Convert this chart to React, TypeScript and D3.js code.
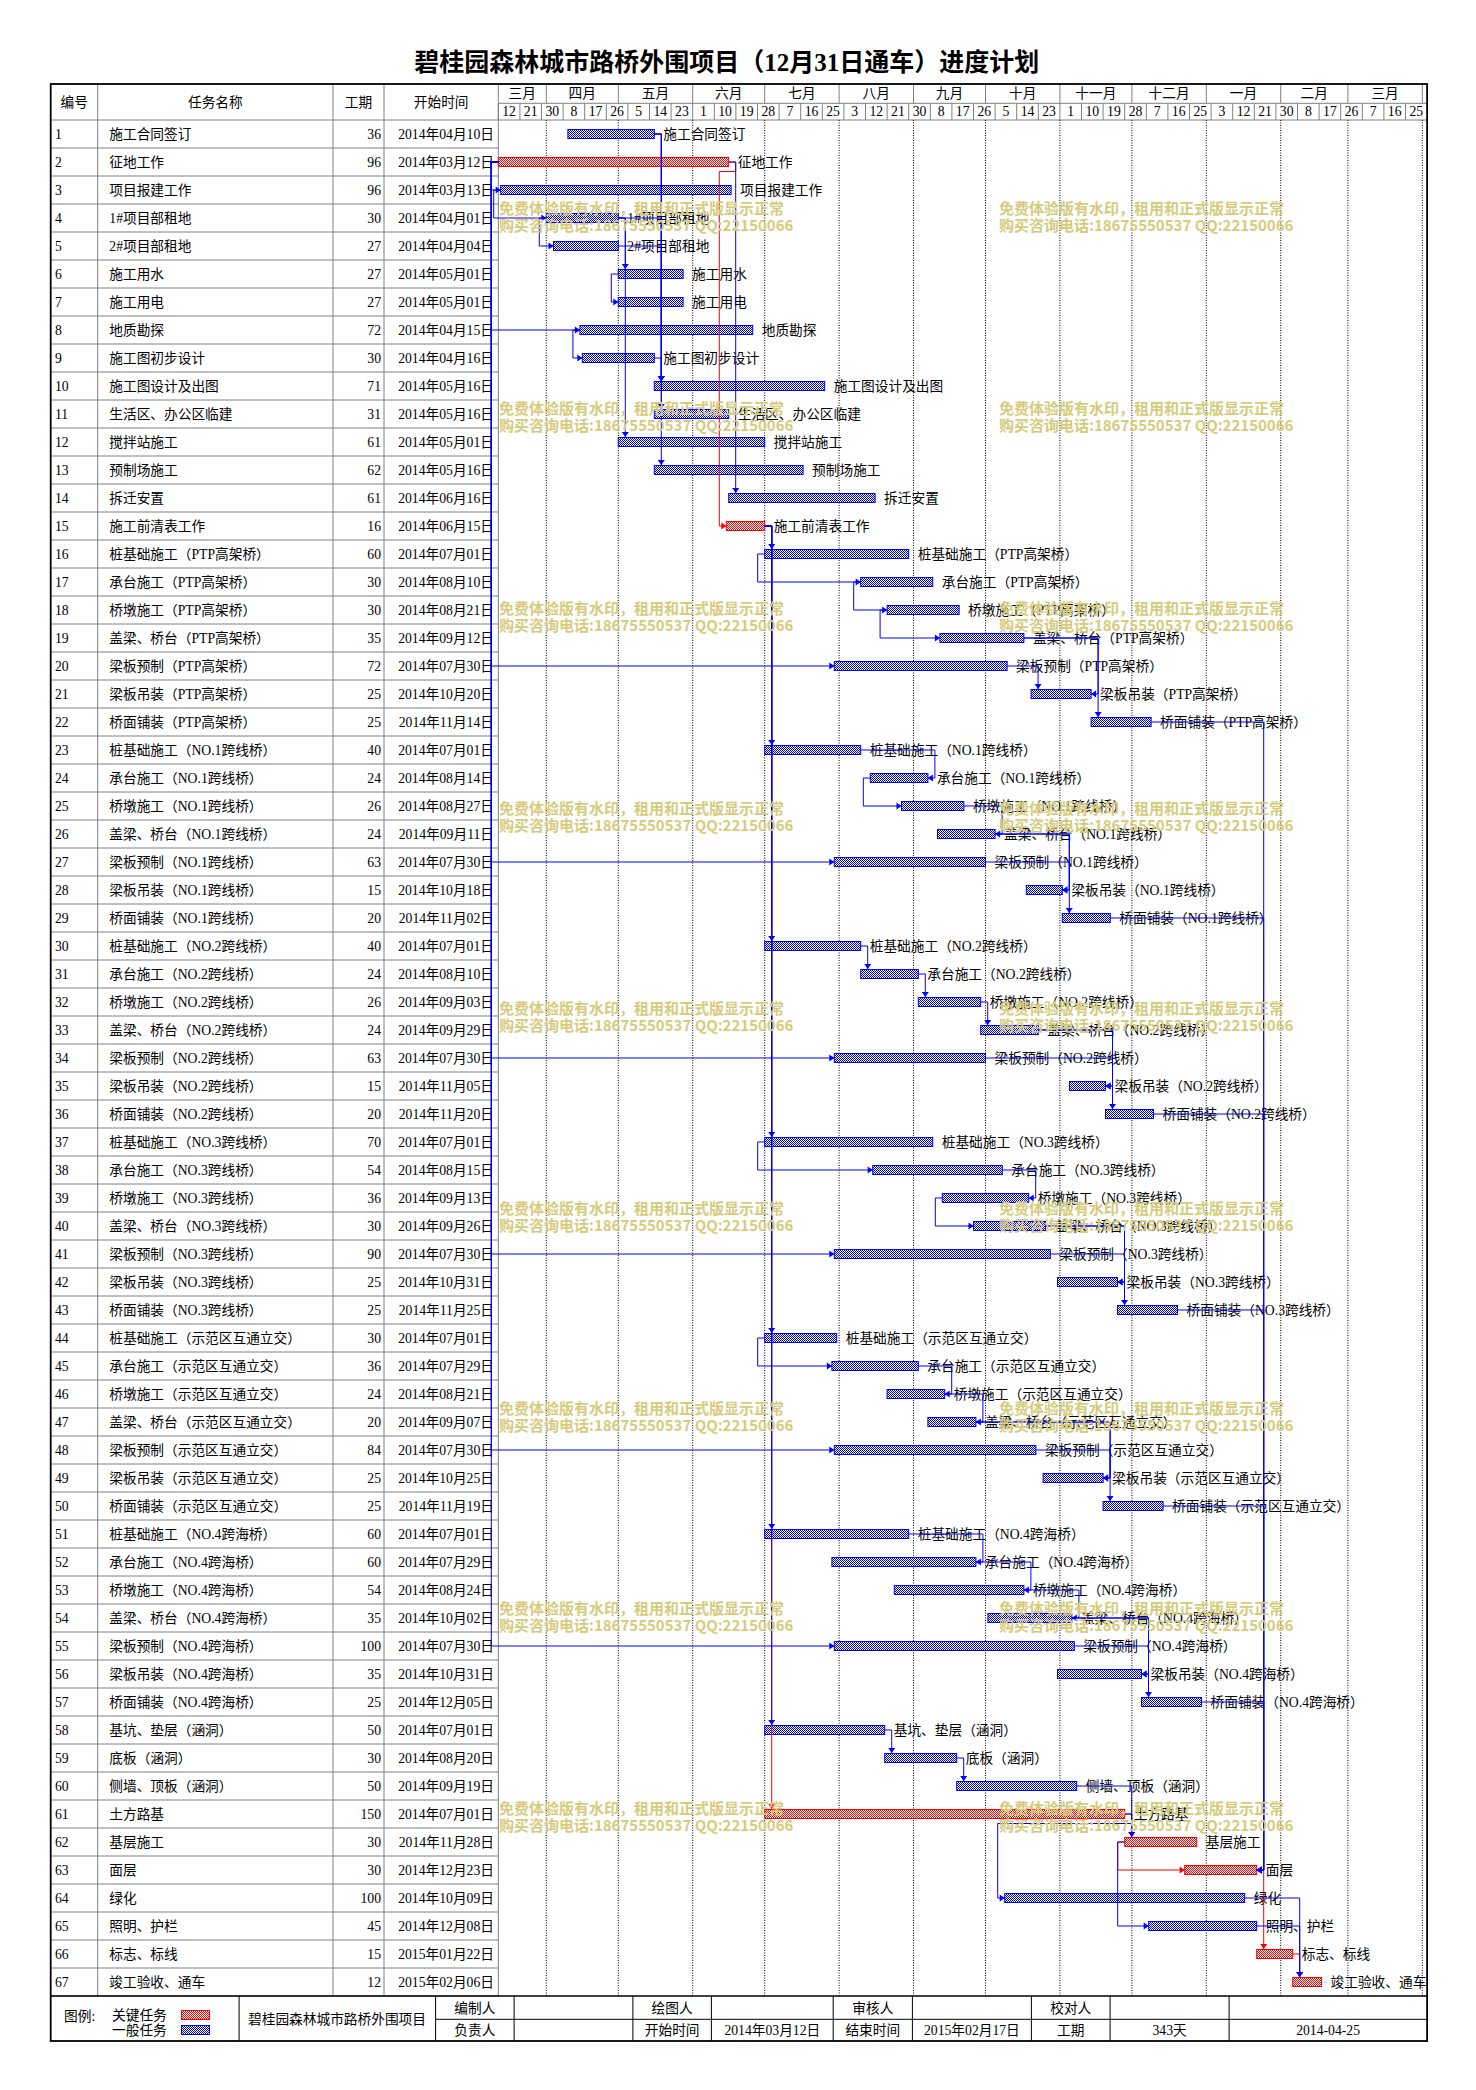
import React, { useEffect } from "react";
import * as d3 from "d3";

const title = "碧桂园森林城市路桥外围项目（12月31日通车）进度计划";
const headerLabels = ["编号", "任务名称", "工期", "开始时间"];
const monthNames = ["一月", "二月", "三月", "四月", "五月", "六月", "七月", "八月", "九月", "十月", "十一月", "十二月"];

const taskNames = [
  "施工合同签订", "征地工作", "项目报建工作", "1#项目部租地", "2#项目部租地", "施工用水", "施工用电", "地质勘探",
  "施工图初步设计", "施工图设计及出图", "生活区、办公区临建", "搅拌站施工", "预制场施工", "拆迁安置", "施工前清表工作",
  "桩基础施工（PTP高架桥）", "承台施工（PTP高架桥）", "桥墩施工（PTP高架桥）", "盖梁、桥台（PTP高架桥）",
  "梁板预制（PTP高架桥）", "梁板吊装（PTP高架桥）", "桥面铺装（PTP高架桥）",
  "桩基础施工（NO.1跨线桥）", "承台施工（NO.1跨线桥）", "桥墩施工（NO.1跨线桥）", "盖梁、桥台（NO.1跨线桥）",
  "梁板预制（NO.1跨线桥）", "梁板吊装（NO.1跨线桥）", "桥面铺装（NO.1跨线桥）",
  "桩基础施工（NO.2跨线桥）", "承台施工（NO.2跨线桥）", "桥墩施工（NO.2跨线桥）", "盖梁、桥台（NO.2跨线桥）",
  "梁板预制（NO.2跨线桥）", "梁板吊装（NO.2跨线桥）", "桥面铺装（NO.2跨线桥）",
  "桩基础施工（NO.3跨线桥）", "承台施工（NO.3跨线桥）", "桥墩施工（NO.3跨线桥）", "盖梁、桥台（NO.3跨线桥）",
  "梁板预制（NO.3跨线桥）", "梁板吊装（NO.3跨线桥）", "桥面铺装（NO.3跨线桥）",
  "桩基础施工（示范区互通立交）", "承台施工（示范区互通立交）", "桥墩施工（示范区互通立交）", "盖梁、桥台（示范区互通立交）",
  "梁板预制（示范区互通立交）", "梁板吊装（示范区互通立交）", "桥面铺装（示范区互通立交）",
  "桩基础施工（NO.4跨海桥）", "承台施工（NO.4跨海桥）", "桥墩施工（NO.4跨海桥）", "盖梁、桥台（NO.4跨海桥）",
  "梁板预制（NO.4跨海桥）", "梁板吊装（NO.4跨海桥）", "桥面铺装（NO.4跨海桥）",
  "基坑、垫层（涵洞）", "底板（涵洞）", "侧墙、顶板（涵洞）", "土方路基", "基层施工", "面层", "绿化",
  "照明、护栏", "标志、标线", "竣工验收、通车",
];

const durations = [
  36, 96, 96, 30, 27, 27, 27, 72, 30, 71, 31, 61, 62, 61, 16,
  60, 30, 30, 35, 72, 25, 25,
  40, 24, 26, 24, 63, 15, 20,
  40, 24, 26, 24, 63, 15, 20,
  70, 54, 36, 30, 90, 25, 25,
  30, 36, 24, 20, 84, 25, 25,
  60, 60, 54, 35, 100, 35, 25,
  50, 30, 50, 150, 30, 30, 100, 45, 15, 12,
];

const startDates = [
  "2014-04-10", "2014-03-12", "2014-03-13", "2014-04-01", "2014-04-04", "2014-05-01", "2014-05-01", "2014-04-15",
  "2014-04-16", "2014-05-16", "2014-05-16", "2014-05-01", "2014-05-16", "2014-06-16", "2014-06-15",
  "2014-07-01", "2014-08-10", "2014-08-21", "2014-09-12", "2014-07-30", "2014-10-20", "2014-11-14",
  "2014-07-01", "2014-08-14", "2014-08-27", "2014-09-11", "2014-07-30", "2014-10-18", "2014-11-02",
  "2014-07-01", "2014-08-10", "2014-09-03", "2014-09-29", "2014-07-30", "2014-11-05", "2014-11-20",
  "2014-07-01", "2014-08-15", "2014-09-13", "2014-09-26", "2014-07-30", "2014-10-31", "2014-11-25",
  "2014-07-01", "2014-07-29", "2014-08-21", "2014-09-07", "2014-07-30", "2014-10-25", "2014-11-19",
  "2014-07-01", "2014-07-29", "2014-08-24", "2014-10-02", "2014-07-30", "2014-10-31", "2014-12-05",
  "2014-07-01", "2014-08-20", "2014-09-19", "2014-07-01", "2014-11-28", "2014-12-23", "2014-10-09",
  "2014-12-08", "2015-01-22", "2015-02-06",
];

const criticalTasks = [2, 15, 61, 62, 63, 66, 67];

// dependency links: predecessor id, successor id, type
const linkFrom = [
  2, 15, 61, 62, 63, 66,
  2, 2, 2, 2, 2, 2, 2, 2, 3, 4, 4, 4, 4, 5, 1, 1, 1, 9, 6, 8, 2,
  15, 15, 15, 15, 15, 15, 15,
  16, 17, 18, 19, 19, 20, 22,
  23, 24, 25, 26, 26, 27, 29,
  30, 31, 32, 33, 33, 34, 36,
  37, 38, 39, 40, 40, 41, 43,
  44, 45, 46, 47, 47, 48, 50,
  51, 52, 53, 54, 54, 55, 57,
  58, 59, 60, 61, 62, 64, 65,
];
const linkTo = [
  15, 61, 62, 63, 66, 67,
  3, 8, 20, 27, 34, 41, 48, 55, 4, 5, 6, 12, 10, 10, 10, 11, 13, 10, 7, 9, 14,
  16, 23, 30, 37, 44, 51, 58,
  17, 18, 19, 21, 22, 21, 63,
  24, 25, 26, 28, 29, 28, 63,
  31, 32, 33, 35, 36, 35, 63,
  38, 39, 40, 42, 43, 42, 63,
  45, 46, 47, 49, 50, 49, 63,
  52, 53, 54, 56, 57, 56, 63,
  59, 60, 62, 64, 65, 67, 67,
];
const linkType = [
  "FS", "FS", "FS", "SS", "FS", "FS",
  "SS", "SS", "SS", "SS", "SS", "SS", "SS", "SS", "SS", "SS", "FS", "FS", "FS", "FS", "FS", "FS", "FS", "FS", "SS", "SS", "FS",
  "FS", "FS", "FS", "FS", "FS", "FS", "FS",
  "SS", "SS", "SS", "FF", "FS", "FS", "FF",
  "FF", "SS", "FF", "FF", "FS", "FF", "FF",
  "FS", "FS", "FS", "FF", "FS", "FF", "FF",
  "SS", "FF", "SS", "FF", "FS", "FF", "FF",
  "SS", "FF", "FF", "FF", "FS", "FF", "FF",
  "FF", "FF", "FF", "FF", "FS", "FF", "FF",
  "FS", "FS", "FS", "FS", "SS", "FS", "FS",
];

const legendLabels = ["图例:", "关键任务", "一般任务"];
const projectName = "碧桂园森林城市路桥外围项目";
const footerTop = ["编制人", "", "绘图人", "", "审核人", "", "校对人", "", ""];
const footerBottom = ["负责人", "", "开始时间", "2014年03月12日", "结束时间", "2015年02月17日", "工期", "343天", "2014-04-25"];
const watermark1 = "免费体验版有水印，租用和正式版显示正常";
const watermark2 = "购买咨询电话:18675550537 QQ:22150066";

const FONT = "'Liberation Serif','Noto Sans CJK SC',serif";
const GRAY = "#808080";
const BLUE = "#0000ff";
const RED = "#ff0000";

const W = 1476;
const H = 2090;
const colX = [50.7, 97.7, 333, 384, 498.3];
const X_END = 1427.1;
const HEAD_TOP = 84;
const HEAD_MID = 103.3;
const TOP = 120;
const ROW_H = 28;
const FOOT_TOP = TOP + ROW_H * taskNames.length;
const FOOT_MID = 2019.3;
const FOOT_BOT = 2041;
const footCols = [435.6, 514.1, 632.9, 711.4, 833.2, 912.4, 1031.4, 1110.1, 1229.1, X_END];

const parse = (s: string) => {
  const [y, m, d] = s.split("-").map(Number);
  return new Date(Date.UTC(y, m - 1, d));
};
const fmtCN = (s: string) => {
  const [y, m, d] = s.split("-");
  return `${y}年${m}月${d}日`;
};

export default function App() {
  useEffect(() => {
    document.body.style.margin = "0";
  }, []);

  const d0 = new Date(Date.UTC(2014, 2, 12));
  const d1 = new Date(Date.UTC(2015, 3, 3));
  const x = d3.scaleUtc().domain([d0, d1]).range([colX[4], X_END]);

  const starts = startDates.map(parse);
  const ends = starts.map((s, i) => d3.utcDay.offset(s, durations[i]));
  const cy = (i: number) => TOP + (i + 0.5) * ROW_H;
  const xs = (i: number) => x(starts[i]);
  const xe = (i: number) => x(ends[i]);
  const HB = 4.5;
  const G = 7;

  const monthBounds = [d0, ...d3.utcMonths(d0, d1), d1];
  const monthSegs = monthBounds.slice(0, -1).map((b, i) => ({ a: b, b: monthBounds[i + 1] }));
  const innerMonths = d3.utcMonths(d3.utcDay.offset(d0, 1), d1);
  const dayTicks = d3.range(0, 387, 9).map((k) => d3.utcDay.offset(d0, k));

  const links = linkFrom.map((f, k) => {
    const fi = f - 1;
    const ti = linkTo[k] - 1;
    const t = linkType[k];
    const red = criticalTasks.includes(f) && criticalTasks.includes(linkTo[k]);
    let d = "";
    let arrow = "";
    if (t === "FS") {
      const ex = xe(fi);
      const sx = xs(ti);
      if (sx >= ex - 0.01) {
        const px = sx + G;
        const ty = cy(ti) - HB - 0.5;
        d = `M${ex},${cy(fi)}H${px}V${ty}`;
        arrow = `M${px},${ty}L${px - 3.5},${ty - 5}L${px + 3.5},${ty - 5}Z`;
      } else {
        const yb = cy(fi) + 9.5;
        d = `M${ex},${cy(fi)}H${ex + G}V${yb}H${sx - G}V${cy(ti)}H${sx}`;
        arrow = `M${sx},${cy(ti)}L${sx - 5},${cy(ti) - 3.5}L${sx - 5},${cy(ti) + 3.5}Z`;
      }
    } else if (t === "SS") {
      const sp = xs(fi);
      const sx = xs(ti);
      d = `M${sp},${cy(fi)}H${sp - G}V${cy(ti)}H${sx}`;
      arrow = `M${sx},${cy(ti)}L${sx - 5},${cy(ti) - 3.5}L${sx - 5},${cy(ti) + 3.5}Z`;
    } else {
      const ep = xe(fi);
      const es = xe(ti);
      const turn = Math.max(ep, es) + G;
      d = `M${ep},${cy(fi)}H${turn}V${cy(ti)}H${es}`;
      arrow = `M${es},${cy(ti)}L${es + 5},${cy(ti) - 3.5}L${es + 5},${cy(ti) + 3.5}Z`;
    }
    return { d, arrow, red, key: k };
  });
  const orderedLinks = [...links.filter((l) => l.red), ...links.filter((l) => !l.red)];

  const fs = 13.7;

  return (
    <svg width={W} height={H} style={{ display: "block", position: "absolute", left: 0, top: 0, background: "#fff" }} fontFamily={FONT}>
      <defs>
        <pattern id="pBlue" width={2} height={2} patternUnits="userSpaceOnUse">
          <rect width={2} height={2} fill="#fff" />
          <rect width={1} height={1} fill={BLUE} />
          <rect x={1} y={1} width={1} height={1} fill={BLUE} />
        </pattern>
        <pattern id="pRed" width={2} height={2} patternUnits="userSpaceOnUse">
          <rect width={2} height={2} fill="#fff" />
          <rect width={1} height={1} fill={RED} />
          <rect x={1} y={1} width={1} height={1} fill={RED} />
        </pattern>
      </defs>
      <rect width={W} height={H} fill="#fff" />

      {/* title */}
      <text x={726.7} y={62} fontSize={25} fontWeight="bold" textAnchor="middle" dominantBaseline="central" fill="#000">
        {title}
      </text>

      {/* table grid */}
      {taskNames.map((_, i) => (
        <line key={"rl" + i} x1={colX[0]} x2={colX[4]} y1={TOP + (i + 1) * ROW_H} y2={TOP + (i + 1) * ROW_H} stroke={GRAY} strokeWidth={1} />
      ))}
      <line x1={colX[0]} x2={X_END} y1={TOP} y2={TOP} stroke={GRAY} strokeWidth={1} />
      {colX.slice(1).map((cx, i) => (
        <line key={"cl" + i} x1={cx} x2={cx} y1={HEAD_TOP} y2={FOOT_TOP} stroke={GRAY} strokeWidth={1} />
      ))}

      {/* header labels */}
      {headerLabels.map((h, i) => (
        <text key={"h" + i} x={(colX[i] + colX[i + 1]) / 2} y={102} fontSize={fs} textAnchor="middle" dominantBaseline="central">
          {h}
        </text>
      ))}

      {/* timeline header */}
      <line x1={colX[4]} x2={X_END} y1={HEAD_MID} y2={HEAD_MID} stroke={GRAY} strokeWidth={1} />
      {innerMonths.map((m, i) => (
        <line key={"ms" + i} x1={x(m)} x2={x(m)} y1={HEAD_TOP} y2={HEAD_MID} stroke={GRAY} strokeWidth={1} />
      ))}
      {monthSegs.map((s, i) =>
        x(s.b) - x(s.a) > 20 ? (
          <text key={"mt" + i} x={(x(s.a) + x(s.b)) / 2} y={93.7} fontSize={fs} textAnchor="middle" dominantBaseline="central">
            {monthNames[s.a.getUTCMonth()]}
          </text>
        ) : null
      )}
      {dayTicks.map((t, i) => (
        <g key={"dt" + i}>
          <line x1={x(t)} x2={x(t)} y1={HEAD_MID} y2={TOP} stroke={GRAY} strokeWidth={1} />
          <text x={x(t) + 10.8} y={111.8} fontSize={fs} textAnchor="middle" dominantBaseline="central">
            {t.getUTCDate()}
          </text>
        </g>
      ))}

      {/* month dotted lines */}
      {innerMonths.map((m, i) => (
        <line key={"md" + i} x1={x(m)} x2={x(m)} y1={TOP} y2={FOOT_TOP} stroke="#000" strokeWidth={1} strokeDasharray="1,1.5" />
      ))}

      {/* table rows */}
      {taskNames.map((n, i) => (
        <g key={"tr" + i} fontSize={fs}>
          <text x={55} y={cy(i)} dominantBaseline="central">{i + 1}</text>
          <text x={109.3} y={cy(i)} dominantBaseline="central">{n}</text>
          <text x={381} y={cy(i)} textAnchor="end" dominantBaseline="central">{durations[i]}</text>
          <text x={494} y={cy(i)} textAnchor="end" dominantBaseline="central">{fmtCN(startDates[i])}</text>
        </g>
      ))}

      {/* bars */}
      {taskNames.map((n, i) => {
        const red = criticalTasks.includes(i + 1);
        return (
          <rect
            key={"b" + i}
            x={xs(i)}
            y={cy(i) - HB}
            width={xe(i) - xs(i)}
            height={HB * 2}
            fill={red ? "url(#pRed)" : "url(#pBlue)"}
            stroke={red ? RED : BLUE}
            strokeWidth={1}
          />
        );
      })}

      {/* bar labels */}
      {taskNames.map((n, i) => (
        <text key={"bl" + i} x={xe(i) + 9} y={cy(i)} fontSize={fs} dominantBaseline="central">
          {n}
        </text>
      ))}

      {/* links */}
      {orderedLinks.map((l) => (
        <g key={"lk" + l.key}>
          <path d={l.d} fill="none" stroke={l.red ? RED : BLUE} strokeWidth={1} />
          <path d={l.arrow} fill={l.red ? RED : BLUE} stroke="none" />
        </g>
      ))}

      {/* footer */}
      <line x1={colX[0]} x2={X_END} y1={FOOT_TOP} y2={FOOT_TOP} stroke="#000" strokeWidth={1.5} />
      <line x1={footCols[0]} x2={X_END} y1={FOOT_MID} y2={FOOT_MID} stroke="#000" strokeWidth={1} />
      {[239.1, ...footCols.slice(0, -1)].map((fx, i) => (
        <line key={"fc" + i} x1={fx} x2={fx} y1={FOOT_TOP} y2={FOOT_BOT} stroke="#000" strokeWidth={1} />
      ))}
      <text x={64} y={2016} fontSize={fs} dominantBaseline="central">{legendLabels[0]}</text>
      <text x={112} y={2015} fontSize={fs} dominantBaseline="central">{legendLabels[1]}</text>
      <text x={112} y={2030} fontSize={fs} dominantBaseline="central">{legendLabels[2]}</text>
      <rect x={181.5} y={2010.5} width={28} height={9} fill="url(#pRed)" stroke={RED} strokeWidth={1} />
      <rect x={181.5} y={2025.5} width={28} height={9} fill="url(#pBlue)" stroke={BLUE} strokeWidth={1} />
      <text x={337} y={2019} fontSize={fs} textAnchor="middle" dominantBaseline="central">{projectName}</text>
      {footerTop.map((t, i) => (
        <text key={"ft" + i} x={(footCols[i] + footCols[i + 1]) / 2} y={2008} fontSize={fs} textAnchor="middle" dominantBaseline="central">
          {t}
        </text>
      ))}
      {footerBottom.map((t, i) => (
        <text key={"fb" + i} x={(footCols[i] + footCols[i + 1]) / 2} y={2030.3} fontSize={fs} textAnchor="middle" dominantBaseline="central">
          {t}
        </text>
      ))}

      {/* outer border */}
      <rect x={colX[0]} y={HEAD_TOP} width={X_END - colX[0]} height={FOOT_BOT - HEAD_TOP} fill="none" stroke="#000" strokeWidth={1.8} />

      {/* watermark */}
      {d3.range(9).map((k) => (
        <g key={"wm" + k} fill="#d6cb7c" fontSize={15} fontWeight="bold" fontFamily="'Noto Sans CJK SC',sans-serif">
          {[499, 999].map((wx) => (
            <g key={wx}>
              <text x={wx} y={214 + k * 200}>{watermark1}</text>
              <text x={wx} y={231 + k * 200}>{watermark2}</text>
            </g>
          ))}
        </g>
      ))}
    </svg>
  );
}
